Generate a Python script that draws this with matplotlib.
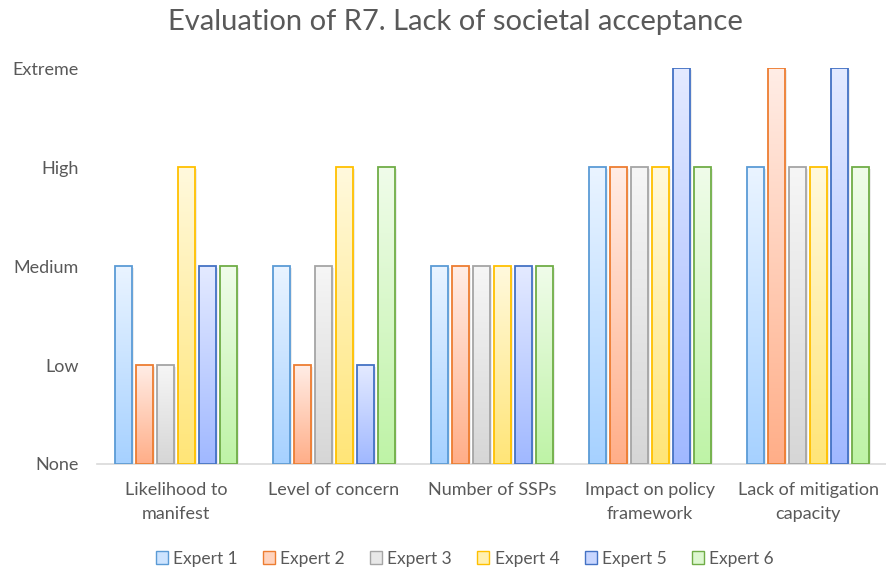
import matplotlib.pyplot as plt
import matplotlib.colors as mcolors
from matplotlib.patches import Rectangle
import numpy as np

categories = ['Likelihood to\nmanifest', 'Level of concern', 'Number of SSPs',
              'Impact on policy\nframework', 'Lack of mitigation\ncapacity']
experts = ['Expert 1', 'Expert 2', 'Expert 3', 'Expert 4', 'Expert 5', 'Expert 6']
levels = ['None', 'Low', 'Medium', 'High', 'Extreme']

expert1 = [2, 2, 2, 3, 3]
expert2 = [1, 1, 2, 3, 4]
expert3 = [1, 2, 2, 3, 3]
expert4 = [3, 3, 2, 3, 3]
expert5 = [2, 1, 2, 4, 4]
expert6 = [2, 3, 2, 3, 3]
values = [expert1, expert2, expert3, expert4, expert5, expert6]

edge_colors = ['#5B9BD5', '#ED7D31', '#A5A5A5', '#FFC000', '#4472C4', '#70AD47']
bottom_colors = ['#A6D1FF', '#FFAE88', '#D6D6D6', '#FFE577', '#A0B8FF', '#BEF3A6']
top_colors = ['#EAF4FF', '#FFEDE6', '#F6F6F6', '#FFF9DD', '#E4EAFF', '#F0FCEA']
legend_fill = ['#CDE4FF', '#FFD3BE', '#E8E8E8', '#FFF0B0', '#C8D6FF', '#DDF7D0']

plt.rcParams['font.family'] = ['Lato', 'DejaVu Sans']

fig = plt.figure(figsize=(8.87, 5.68), dpi=100)
ax = fig.add_axes([97 / 887, 1 - 464 / 568, 790 / 887, (464 - 68) / 568])

width = 0.108
pitch = 0.133
x = np.arange(len(categories))

for i in range(len(experts)):
    cmap = mcolors.LinearSegmentedColormap.from_list('g', [bottom_colors[i], top_colors[i]])
    grad = np.linspace(0, 1, 256).reshape(-1, 1)
    for j, v in enumerate(values[i]):
        left = x[j] + (i - 2.5) * pitch - width / 2
        # soft shadow
        ax.add_patch(Rectangle((left + 0.012, 0), width, v - 0.02, facecolor='#000000',
                               alpha=0.08, edgecolor='none', zorder=1))
        ax.imshow(grad, cmap=cmap, origin='lower', aspect='auto',
                  extent=(left, left + width, 0, v), zorder=2, interpolation='bilinear')
        ax.add_patch(Rectangle((left, 0), width, v, facecolor='none',
                               edgecolor=edge_colors[i], linewidth=1.3, zorder=3))
    ax.add_patch(Rectangle((0, 0), 0, 0, facecolor=legend_fill[i],
                           edgecolor=edge_colors[i], label=experts[i]))

ax.set_xlim(-0.5, len(categories) - 0.5)
ax.set_ylim(0, 4)
ax.set_yticks(range(len(levels)))
ax.set_yticklabels(levels)
ax.set_xticks(x)
ax.set_xticklabels(categories, linespacing=1.6)
ax.tick_params(axis='both', length=0, labelsize=13, labelcolor='#595959')
ax.tick_params(axis='x', pad=13)
ax.tick_params(axis='y', pad=13)
for s in ['top', 'right', 'left']:
    ax.spines[s].set_visible(False)
ax.spines['bottom'].set_color('#D9D9D9')
ax.spines['bottom'].set_linewidth(1.2)

fig.suptitle('Evaluation of R7. Lack of societal acceptance', x=0.513, y=0.985,
             fontsize=21, color='#595959')

fig.legend(loc='lower center', ncol=6, frameon=False, fontsize=12.5,
           labelcolor='#595959', handlelength=0.7, handleheight=0.7,
           handletextpad=0.3, columnspacing=1.45, bbox_to_anchor=(0.524, -0.025))

fig.savefig('out.png', dpi=100)
